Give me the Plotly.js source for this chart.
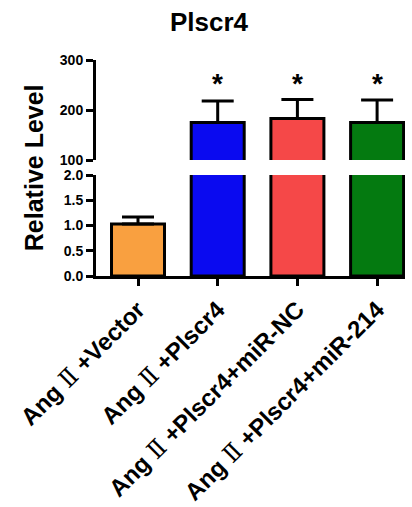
<!DOCTYPE html>
<html><head><meta charset="utf-8">
<script src="https://cdn.plot.ly/plotly-3.0.1.min.js"></script>
<style>html,body{margin:0;padding:0;background:#fff}</style>
</head><body>
<div id="chart" style="width:412px;height:507px"></div>
<script>
var roman = "<span style=\"font-family:'Liberation Serif','DejaVu Serif',serif;font-weight:normal\">\u2161</span>";
var categories = ["Ang " + roman + " +Vector", "Ang " + roman + " +Plscr4", "Ang " + roman + " +Plscr4+miR-NC", "Ang " + roman + " +Plscr4+miR-214"];
var values = [1.03, 175, 183, 175];
var errors = [0.14, 43, 38, 45];
var colors = ["#F9A040", "#0A0AF0", "#F54848", "#047A10"];
var significance = ["", "*", "*", "*"];
var lowerTicks = [0, 0.5, 1.0, 1.5, 2.0];
var upperTicks = [100, 200, 300];

var xs = categories.map(function(_, i){ return i; });
function barTrace(yax){
  return {
    type: "bar", x: xs, y: values, yaxis: yax, width: 0.665,
    marker: {color: colors, line: {color: "#000", width: 3}},
    error_y: {type: "data", array: errors, arrayminus: errors.map(function(){return 0;}),
      symmetric: false, color: "#000", thickness: 3, width: 16},
    hoverinfo: "none", showlegend: false
  };
}
var data = [barTrace("y"), barTrace("y2")];

var tickFont = {family: "Liberation Sans, Arial, sans-serif", size: 14, color: "#000", weight: "bold"};
var annotations = [];
significance.forEach(function(s, i){
  if (s) annotations.push({x: i, y: 254, xref: "x", yref: "y2", text: "<b>" + s + "</b>", showarrow: false,
    font: {family: "Liberation Sans, Arial", size: 28, color: "#000"}, yanchor: "middle"});
});
annotations.push({xref: "paper", yref: "paper", x: -0.2, y: 0.5, text: "<b>Relative Level</b>",
  textangle: -90, showarrow: false, xanchor: "center", yanchor: "middle",
  font: {family: "Liberation Sans, Arial", size: 25, color: "#000"}});

var layout = {
  width: 412, height: 507,
  margin: {l: 96, r: 7, t: 60, b: 231},
  paper_bgcolor: "#fff", plot_bgcolor: "#fff",
  title: {text: "<b>Plscr4</b>", x: 209/412, xref: "container", xanchor: "center", y: 0.957, yanchor: "middle",
    font: {family: "Liberation Sans, Arial", size: 26, color: "#000"}},
  xaxis: {range: [-0.527, 3.35], tickvals: xs, ticktext: categories, tickangle: -45,
    showline: true, linecolor: "#000", linewidth: 3, ticks: "outside", ticklen: 7, tickwidth: 3, tickcolor: "#000",
    showgrid: false, zeroline: false, anchor: "y",
    tickfont: {family: "Liberation Sans, Arial, sans-serif", size: 24, color: "#000", weight: "bold"}},
  yaxis: {domain: [0, 101/216], range: [0, 2.0], tickvals: lowerTicks, tickformat: ".1f",
    showline: true, linecolor: "#000", linewidth: 3, ticks: "outside", ticklen: 7, tickwidth: 3, tickcolor: "#000",
    showgrid: false, zeroline: false, tickfont: tickFont, anchor: "x"},
  yaxis2: {domain: [116/216, 1], range: [100, 300], tickvals: upperTicks,
    showline: true, linecolor: "#000", linewidth: 3, ticks: "outside", ticklen: 7, tickwidth: 3, tickcolor: "#000",
    showgrid: false, zeroline: false, tickfont: tickFont, anchor: "x"},
  annotations: annotations,
  bargap: 0
};
Plotly.newPlot("chart", data, layout, {displayModeBar: false, staticPlot: true});
</script>
</body></html>
